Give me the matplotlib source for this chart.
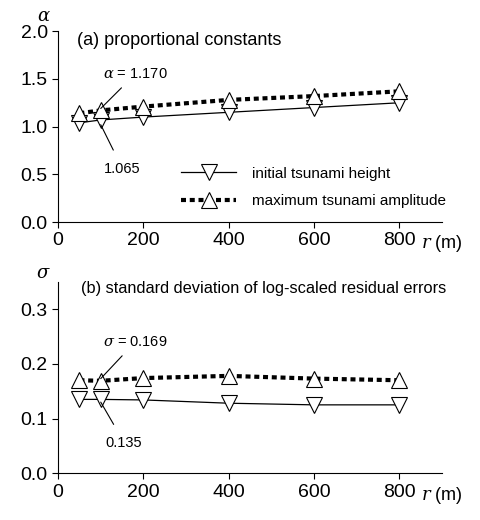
import matplotlib
matplotlib.use("Agg")
import matplotlib.pyplot as plt

plt.rcParams['font.family'] = ['Liberation Sans', 'DejaVu Sans']
plt.rcParams['mathtext.fontset'] = 'dejavuserif'

r = [50, 100, 200, 400, 600, 800]
alpha_init = [1.04, 1.07, 1.10, 1.15, 1.20, 1.25]
alpha_max = [1.14, 1.17, 1.21, 1.28, 1.32, 1.37]
sigma_init = [0.135, 0.135, 0.134, 0.128, 0.125, 0.125]
sigma_max = [0.170, 0.169, 0.174, 0.178, 0.173, 0.170]
xticks = [0, 200, 400, 600, 800]

fig = plt.figure(figsize=(4.8, 5.2), dpi=100)
ax1 = fig.add_axes([0.121, 0.573, 0.80, 0.367])
ax2 = fig.add_axes([0.121, 0.090, 0.80, 0.368])

mk = dict(markersize=12, markerfacecolor='white', markeredgecolor='black',
          markeredgewidth=0.8, color='black')


def style(ax, ylim, yticks):
    ax.set_xlim(0, 900)
    ax.set_ylim(*ylim)
    ax.set_xticks(xticks)
    ax.set_yticks(yticks)
    ax.spines['top'].set_visible(False)
    ax.spines['right'].set_visible(False)
    ax.tick_params(labelsize=14, length=4, width=0.8, direction='out')
    ax.text(1.0, -0.06, r'$r$ (m)', transform=ax.transAxes, fontsize=13,
            ha='center', va='top')


# (a)
l1, = ax1.plot(r, alpha_init, '-', marker='v', lw=0.9, **mk)
l2, = ax1.plot(r, alpha_max, linestyle=(0, (1.2, 0.9)), marker='^', lw=3, **mk)
style(ax1, (0, 2.0), [0.0, 0.5, 1.0, 1.5, 2.0])
ax1.set_yticklabels(['0.0', '0.5', '1.0', '1.5', '2.0'])
ax1.text(-0.02, 1.03, r'$\alpha$', transform=ax1.transAxes, fontsize=13, ha='right', va='bottom')
ax1.text(0.05, 0.95, '(a) proportional constants', transform=ax1.transAxes, fontsize=13,
         va='center')
ax1.annotate(r'$\alpha$ = 1.170', xy=(100, 1.19), xytext=(105, 1.55), fontsize=10.5,
             va='center', arrowprops=dict(arrowstyle='-', lw=0.8, shrinkA=4, shrinkB=0))
ax1.annotate('1.065', xy=(100, 1.02), xytext=(108, 0.56), fontsize=10.5, va='center',
             arrowprops=dict(arrowstyle='-', lw=0.8, shrinkA=7, shrinkB=0))
ax1.legend([l1, l2], ['initial tsunami height', 'maximum tsunami amplitude'],
           loc='lower right', bbox_to_anchor=(1.045, 0.0), frameon=False, fontsize=11,
           handlelength=3.6, handletextpad=1.0, labelspacing=0.9)

# (b)
ax2.plot(r, sigma_init, '-', marker='v', lw=0.9, **mk)
ax2.plot(r, sigma_max, linestyle=(0, (1.2, 0.9)), marker='^', lw=3, **mk)
style(ax2, (0, 0.35), [0.0, 0.1, 0.2, 0.3])
ax2.set_yticklabels(['0.0', '0.1', '0.2', '0.3'])
ax2.text(-0.02, 1.0, r'$\sigma$', transform=ax2.transAxes, fontsize=13, ha='right', va='bottom')
ax2.text(0.06, 0.965, '(b) standard deviation of log-scaled residual errors',
         transform=ax2.transAxes, fontsize=11.8, va='center')
ax2.annotate(r'$\sigma$ = 0.169', xy=(100, 0.173), xytext=(105, 0.240), fontsize=10.5,
             va='center', arrowprops=dict(arrowstyle='-', lw=0.8, shrinkA=4, shrinkB=0))
ax2.annotate('0.135', xy=(100, 0.130), xytext=(112, 0.056), fontsize=10.5, va='center',
             arrowprops=dict(arrowstyle='-', lw=0.8, shrinkA=7, shrinkB=0))

fig.savefig('out.png', dpi=100)
